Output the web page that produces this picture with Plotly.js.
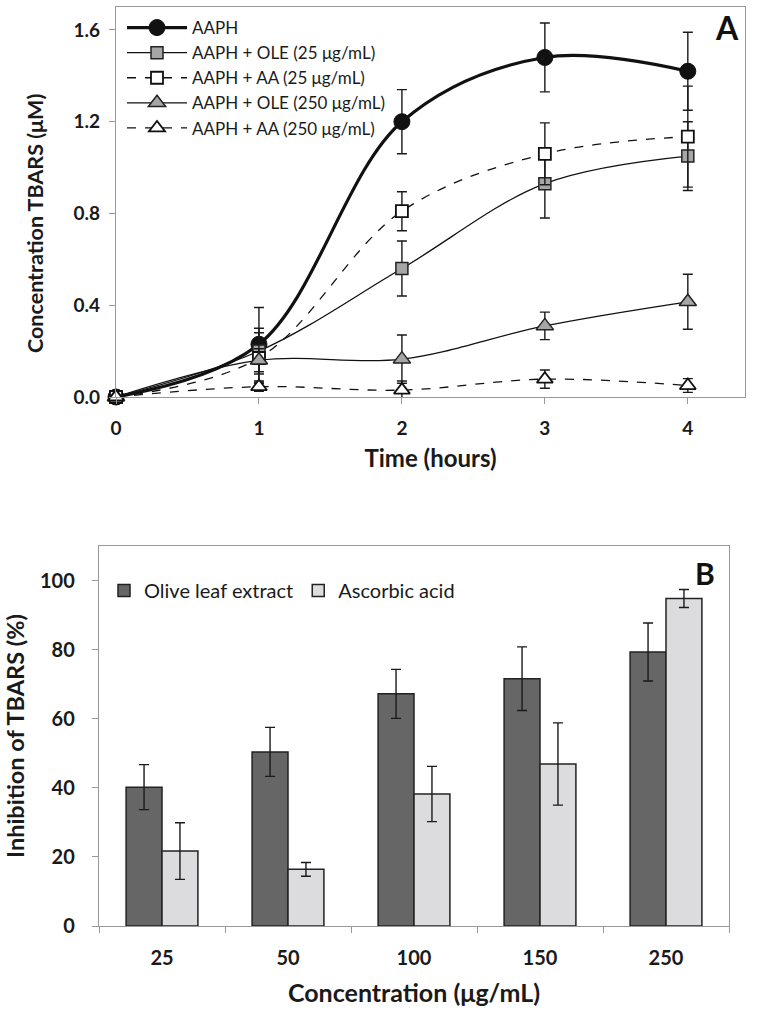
<!DOCTYPE html>
<html>
<head>
<meta charset="utf-8">
<script src="https://cdn.plot.ly/plotly-3.0.1.min.js"></script>
<style>html,body{margin:0;padding:0;background:#fff;}#chart{width:764px;height:1025px;}</style>
</head>
<body>
<div id="chart"></div>
<script>
// ---------- Panel A data ----------
const hours = [0, 1, 2, 3, 4];
const aaph = [0.0, 0.23, 1.20, 1.48, 1.42];
const aaphErr = [0.0, 0.16, 0.14, 0.15, 0.17];
const ole25 = [0.0, 0.20, 0.56, 0.93, 1.05];
const ole25Err = [0.0, 0.10, 0.12, 0.15, 0.15];
const aa25 = [0.0, 0.17, 0.81, 1.06, 1.135];
const aa25Err = [0.0, 0.11, 0.085, 0.135, 0.22];
const ole250 = [0.0, 0.16, 0.165, 0.31, 0.415];
const ole250Err = [0.0, 0.05, 0.105, 0.06, 0.12];
const aa250 = [0.0, 0.045, 0.03, 0.078, 0.05];
const aa250Err = [0.0, 0.02, 0.04, 0.04, 0.03];

// ---------- Panel B data ----------
const concentrations = ["25", "50", "100", "150", "250"];
const oliveLeaf = [40.2, 50.4, 67.2, 71.6, 79.3];
const oliveLeafErr = [6.5, 7.1, 7.1, 9.2, 8.4];
const ascorbic = [21.7, 16.4, 38.2, 46.9, 94.8];
const ascorbicErr = [8.2, 2.0, 8.0, 11.9, 2.6];

const FONT = "Lato, 'Open Sans', sans-serif";
const AX = "#999999";
const INK = "#1a1a1a";

function errBar(arr) {
  return {type: "data", array: arr, visible: true, color: INK, thickness: 1.4, width: 5};
}

const traces = [
  {x: hours, y: aaph, name: "AAPH", type: "scatter", mode: "lines+markers",
   line: {color: "#111", width: 3.2, shape: "spline", smoothing: 1},
   marker: {symbol: "circle", size: 16, color: "#111", line: {color: "#111", width: 1}},
   error_y: errBar(aaphErr), cliponaxis: false, xaxis: "x", yaxis: "y", legend: "legend"},
  {x: hours, y: ole25, name: "AAPH + OLE (25 μg/mL)", type: "scatter", mode: "lines+markers",
   line: {color: "#111", width: 1.3, shape: "spline", smoothing: 1},
   marker: {symbol: "square", size: 12, color: "#a6a6a6", line: {color: "#222", width: 1.5}},
   error_y: errBar(ole25Err), cliponaxis: false, xaxis: "x", yaxis: "y", legend: "legend"},
  {x: hours, y: aa25, name: "AAPH + AA (25 μg/mL)", type: "scatter", mode: "lines+markers",
   line: {color: "#111", width: 1.3, shape: "spline", smoothing: 1, dash: "dash"},
   marker: {symbol: "square", size: 12, color: "#ffffff", line: {color: "#111", width: 1.8}},
   error_y: errBar(aa25Err), cliponaxis: false, xaxis: "x", yaxis: "y", legend: "legend"},
  {x: hours, y: ole250, name: "AAPH + OLE (250 μg/mL)", type: "scatter", mode: "lines+markers",
   line: {color: "#111", width: 1.3, shape: "spline", smoothing: 1},
   marker: {symbol: "triangle-up", size: 15, color: "#a6a6a6", line: {color: "#222", width: 1.5}},
   error_y: errBar(ole250Err), cliponaxis: false, xaxis: "x", yaxis: "y", legend: "legend"},
  {x: hours, y: aa250, name: "AAPH + AA (250 μg/mL)", type: "scatter", mode: "lines+markers",
   line: {color: "#111", width: 1.3, shape: "spline", smoothing: 1, dash: "dash"},
   marker: {symbol: "triangle-up", size: 14, color: "#ffffff", line: {color: "#111", width: 1.8}},
   error_y: errBar(aa250Err), cliponaxis: false, xaxis: "x", yaxis: "y", legend: "legend"},
  {x: concentrations, y: oliveLeaf, name: "Olive leaf extract", type: "bar",
   marker: {color: "#666666", line: {color: "#222", width: 1.5}},
   error_y: errBar(oliveLeafErr), xaxis: "x2", yaxis: "y2", legend: "legend2"},
  {x: concentrations, y: ascorbic, name: "Ascorbic acid", type: "bar",
   marker: {color: "#dcdcde", line: {color: "#222", width: 1.5}},
   error_y: errBar(ascorbicErr), xaxis: "x2", yaxis: "y2", legend: "legend2"}
];

const W = 764, H = 1025;
const px = v => v / W;
const py = v => 1 - v / H;

const bold = size => ({family: FONT, size: size, color: INK, weight: "bold"});

const layout = {
  width: W, height: H,
  margin: {l: 0, r: 0, t: 0, b: 0},
  paper_bgcolor: "#fff", plot_bgcolor: "#fff",
  font: {family: FONT, color: INK},
  barmode: "group", bargap: 0.43, bargroupgap: 0,
  showlegend: true,
  xaxis: {domain: [px(116), px(745)], anchor: "y", range: [0, 4.4], dtick: 1, tick0: 0,
    showline: true, linecolor: AX, linewidth: 1.2, mirror: true, ticks: "outside", ticklen: 6, tickcolor: AX,
    showgrid: false, zeroline: false, tickfont: bold(19), ticklabelstandoff: 8,
    title: {text: "Time (hours)", font: bold(24), standoff: 12}},
  yaxis: {domain: [py(397), py(7)], anchor: "x", range: [0, 1.7], dtick: 0.4, tick0: 0, tickformat: ".1f",
    showline: true, linecolor: AX, linewidth: 1.2, mirror: true, ticks: "outside", ticklen: 6, tickcolor: AX,
    showgrid: false, zeroline: false, tickfont: bold(19), ticklabelstandoff: 5},
  xaxis2: {domain: [px(99), px(729)], anchor: "y2", type: "category", range: [-0.5, 4.5],
    showline: true, linecolor: AX, linewidth: 1.2, mirror: true, ticks: "outside", ticklen: 6, tickcolor: AX,
    tickson: "boundaries", showgrid: false, zeroline: false, tickfont: bold(20), ticklabelstandoff: 14,
    title: {text: "Concentration (μg/mL)", font: bold(25), standoff: 16}},
  yaxis2: {domain: [py(926), py(546)], anchor: "x2", range: [0, 110], dtick: 20, tick0: 0,
    showline: true, linecolor: AX, linewidth: 1.2, mirror: true, ticks: "outside", ticklen: 6, tickcolor: AX,
    showgrid: false, zeroline: false, tickfont: bold(20), ticklabelstandoff: 13,
    title: {text: "Inhibition of TBARS (%)", font: bold(23.5), standoff: 8}},
  legend: {x: px(122), y: py(10), xanchor: "left", yanchor: "top", bgcolor: "rgba(0,0,0,0)",
    font: {family: FONT, size: 17, color: INK}, itemwidth: 60, tracegroupgap: 0},
  legend2: {x: px(104), y: py(571), xanchor: "left", yanchor: "top", orientation: "h", bgcolor: "rgba(0,0,0,0)",
    font: {family: FONT, size: 20, color: INK}, itemwidth: 30},
  annotations: [
    {text: "Concentration TBARS (μM)", x: px(35), y: py(224), xref: "paper", yref: "paper",
     xanchor: "center", yanchor: "middle", textangle: -90, showarrow: false, font: bold(21.5)},
    {text: "A", x: px(727), y: py(27), xref: "paper", yref: "paper", xanchor: "center", yanchor: "middle",
     showarrow: false, font: {family: FONT, size: 32, color: "#111", weight: "bold"}},
    {text: "B", x: px(705), y: py(573), xref: "paper", yref: "paper", xanchor: "center", yanchor: "middle",
     showarrow: false, font: {family: FONT, size: 30, color: "#111", weight: "bold"}}
  ]
};

Plotly.newPlot("chart", traces, layout, {displayModeBar: false, staticPlot: true});
</script>
</body>
</html>
